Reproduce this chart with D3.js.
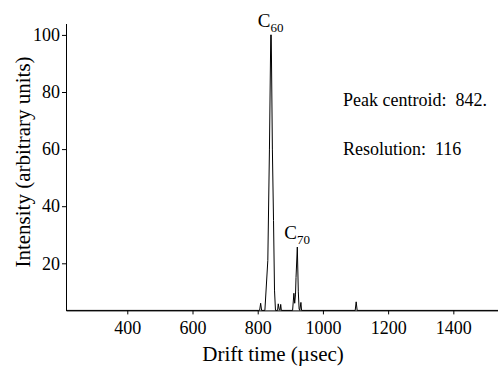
<!DOCTYPE html>
<html>
<head>
<meta charset="utf-8">
<script src="https://d3js.org/d3.v7.min.js"></script>
<style>
  html, body { margin: 0; padding: 0; background: #fff; }
  svg { display: block; }
  text { font-family: "Liberation Serif", "Times New Roman", serif; fill: #000; }
</style>
</head>
<body>
<div id="chart"></div>
<script>
// ---- data ----
const driftTime = [212, 803, 806, 809, 812, 822, 831, 836, 840, 841.5, 845, 848.5, 851.5, 854.5,
                   861, 863, 866, 868.5, 870.5, 872.5,
                   907, 911, 913.5, 916, 917.5, 921.5, 924.5, 927, 929, 932.5, 934.5,
                   1099, 1102, 1105, 1537];
const intensity = [3.5, 3.5, 3.6, 6, 3.5, 3.5, 21, 60, 100, 100, 60, 35, 10.6, 3.5,
                   3.5, 5.8, 3.8, 3.6, 5.6, 3.5,
                   3.5, 9.5, 6, 9.2, 15, 25.7, 10, 4, 3.5, 6.3, 3.5,
                   3.5, 6.5, 3.5, 3.5];
const xTicks = [400, 600, 800, 1000, 1200, 1400];
const yTicks = [20, 40, 60, 80, 100];
const peakLabels = [
  { base: "C", sub: "60", t: 840, v: 100 },
  { base: "C", sub: "70", t: 921.5, v: 25.7 }
];
const notes = ["Peak centroid:  842.", "Resolution:  116"];

// ---- layout ----
const W = 498, H = 367;
const FONT = '"Liberation Serif", "Times New Roman", serif';
const x = d3.scaleLinear().domain([212, 1537]).range([66, 498]);
const y = d3.scaleLinear().domain([3.5, 104]).range([310.4, 23.5]);

const svg = d3.select("#chart").append("svg").attr("width", W).attr("height", H);

// axes
const xAxis = d3.axisBottom(x).tickValues(xTicks).tickFormat(d3.format("d"))
  .tickSize(4).tickSizeOuter(0).tickPadding(6);
const gx = svg.append("g").attr("transform", `translate(0,${y(3.5)})`).call(xAxis)
  .attr("font-family", FONT).attr("font-size", 18);
gx.selectAll("text").style("font-family", FONT).style("font-size", "18px").attr("dy", "0.75em");

const yAxis = d3.axisLeft(y).tickValues(yTicks).tickFormat(d3.format("d"))
  .tickSize(4).tickSizeOuter(0).tickPadding(2);
const gy = svg.append("g").attr("transform", `translate(${x(212)},0)`).call(yAxis)
  .attr("font-family", FONT).attr("font-size", 18);
gy.selectAll("text").style("font-family", FONT).style("font-size", "18px");

svg.selectAll(".domain").attr("stroke", "#000").attr("stroke-width", 1);
svg.selectAll(".tick line").attr("stroke", "#000");

// axis titles
svg.append("text").attr("x", 273).attr("y", 361).attr("text-anchor", "middle")
  .style("font-size", "21px").text("Drift time (\u00b5sec)");
svg.append("text").attr("transform", "translate(30,162) rotate(-90)").attr("text-anchor", "middle")
  .style("font-size", "21px").text("Intensity (arbitrary units)");

// data line
const pts = driftTime.map((t, i) => [t, intensity[i]]);
svg.append("path").datum(pts)
  .attr("fill", "none").attr("stroke", "#000").attr("stroke-width", 1)
  .attr("d", d3.line().x(d => x(d[0])).y(d => y(d[1])));

// peak labels
peakLabels.forEach(p => {
  const t = svg.append("text").attr("x", x(p.t) - 13).attr("y", y(p.v) - 8)
    .style("font-size", "19px").attr("fill", "#000");
  t.append("tspan").text(p.base);
  t.append("tspan").attr("dy", 5).style("font-size", "13px").attr("fill", "#000").text(p.sub);
});

// annotations
notes.forEach((s, i) => {
  svg.append("text").attr("x", 343).attr("y", 106 + i * 49)
    .style("font-size", "18px").style("white-space", "pre").attr("xml:space", "preserve").text(s);
});
</script>
</body>
</html>
